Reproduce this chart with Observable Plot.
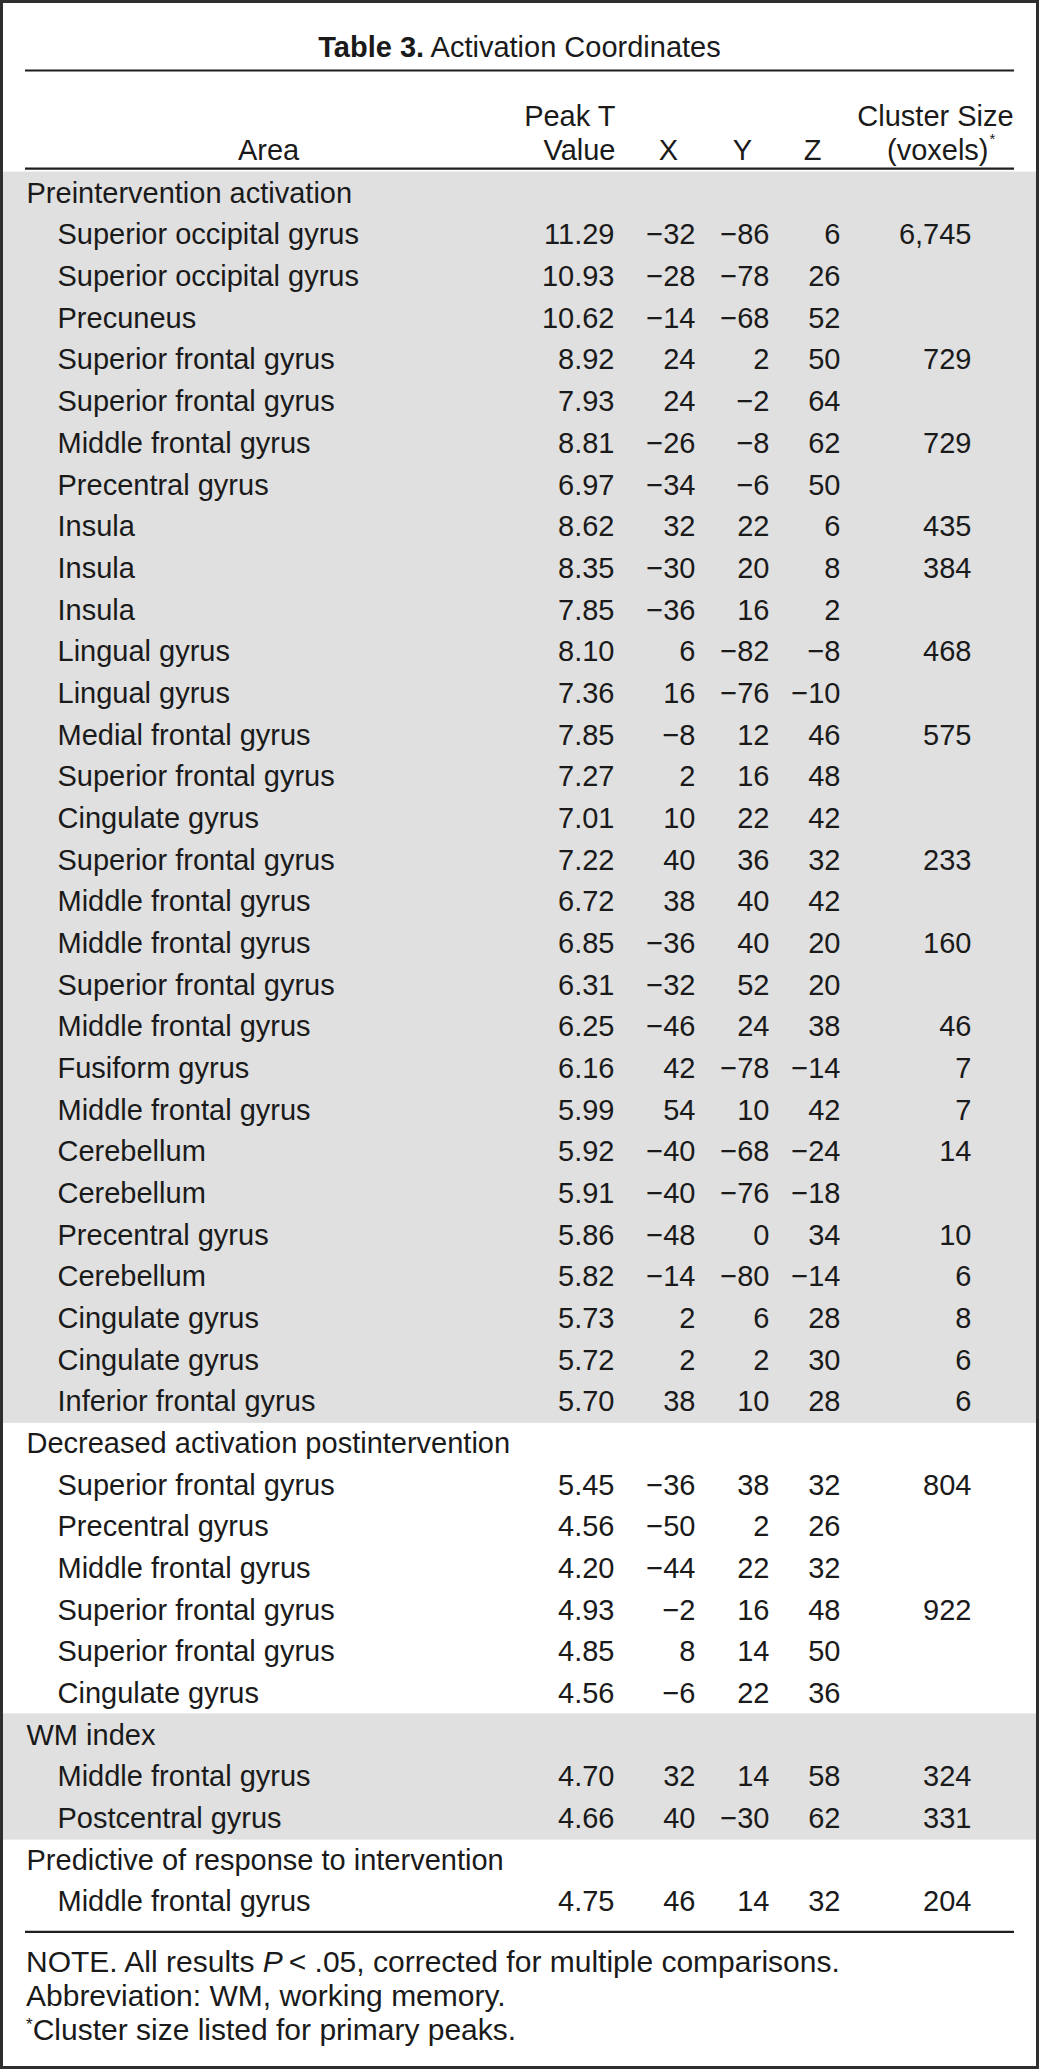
<!DOCTYPE html>
<html>
<head>
<meta charset="utf-8">
<script src="https://cdn.jsdelivr.net/npm/d3@7"></script>
<script src="https://cdn.jsdelivr.net/npm/@observablehq/plot@0.6"></script>
<style>
  html, body { margin: 0; padding: 0; background: #fff; }
  #page { position: relative; width: 1039px; height: 2069px; overflow: hidden;
          font-family: "Liberation Sans", Arial, sans-serif; color: #1a1a1a; }
  #border { position: absolute; left: 0; top: 0; width: 1039px; height: 2069px; box-sizing: border-box;
            border: 3px solid #2e2e2e; pointer-events: none; }
  #title { position: absolute; left: 0; top: 30px; width: 1039px; text-align: center;
           font-size: 29px; line-height: 34px; }
  #title b { font-weight: bold; }
  #chart { position: absolute; left: 0; top: 66px; }
  #notes { position: absolute; left: 26px; top: 1945px; font-size: 30px; line-height: 34px; }
  #notes div { height: 34px; }
  #notes sup { font-size: 17px; position: relative; top: -10px; vertical-align: baseline; }
</style>
</head>
<body>
<div id="page">
  <div id="title"><b>Table 3.</b> Activation Coordinates</div>
  <div id="chart"></div>
  <div id="notes">
    <div>NOTE. All results <i>P</i>&thinsp;&lt; .05, corrected for multiple comparisons.</div>
    <div>Abbreviation: WM, working memory.</div>
    <div><sup>*</sup>Cluster size listed for primary peaks.</div>
  </div>
  <div id="border"></div>
</div>
<script>
// ---------- DATA ----------
const sectionNames = [
  "Preintervention activation",
  "Decreased activation postintervention",
  "WM index",
  "Predictive of response to intervention"
];
const sectionShaded = [true, false, true, false];

const areas = [
  "Superior occipital gyrus","Superior occipital gyrus","Precuneus","Superior frontal gyrus",
  "Superior frontal gyrus","Middle frontal gyrus","Precentral gyrus","Insula","Insula","Insula",
  "Lingual gyrus","Lingual gyrus","Medial frontal gyrus","Superior frontal gyrus","Cingulate gyrus",
  "Superior frontal gyrus","Middle frontal gyrus","Middle frontal gyrus","Superior frontal gyrus",
  "Middle frontal gyrus","Fusiform gyrus","Middle frontal gyrus","Cerebellum","Cerebellum",
  "Precentral gyrus","Cerebellum","Cingulate gyrus","Cingulate gyrus","Inferior frontal gyrus",
  "Superior frontal gyrus","Precentral gyrus","Middle frontal gyrus","Superior frontal gyrus",
  "Superior frontal gyrus","Cingulate gyrus",
  "Middle frontal gyrus","Postcentral gyrus",
  "Middle frontal gyrus"
];
const sectionOf = [
  0,0,0,0,0,0,0,0,0,0,0,0,0,0,0,0,0,0,0,0,0,0,0,0,0,0,0,0,0,
  1,1,1,1,1,1,
  2,2,
  3
];
const peakT = [
  11.29,10.93,10.62,8.92,7.93,8.81,6.97,8.62,8.35,7.85,8.10,7.36,7.85,7.27,7.01,7.22,6.72,6.85,6.31,
  6.25,6.16,5.99,5.92,5.91,5.86,5.82,5.73,5.72,5.70,
  5.45,4.56,4.20,4.93,4.85,4.56,
  4.70,4.66,
  4.75
];
const coordX = [
  -32,-28,-14,24,24,-26,-34,32,-30,-36,6,16,-8,2,10,40,38,-36,-32,-46,42,54,-40,-40,-48,-14,2,2,38,
  -36,-50,-44,-2,8,-6,
  32,40,
  46
];
const coordY = [
  -86,-78,-68,2,-2,-8,-6,22,20,16,-82,-76,12,16,22,36,40,40,52,24,-78,10,-68,-76,0,-80,6,2,10,
  38,2,22,16,14,22,
  14,-30,
  14
];
const coordZ = [
  6,26,52,50,64,62,50,6,8,2,-8,-10,46,48,42,32,42,20,20,38,-14,42,-24,-18,34,-14,28,30,28,
  32,26,32,48,50,36,
  58,62,
  32
];
const clusterSize = [
  6745,null,null,729,null,729,null,435,384,null,468,null,575,null,null,233,null,160,null,46,7,7,14,null,10,6,8,6,6,
  804,null,null,922,null,null,
  324,331,
  204
];

// ---------- LAYOUT (positions / styles) ----------
const FONT = '"Liberation Sans", Arial, sans-serif';
const L = {
  width: 1039, svgHeight: 1874,
  rowH: 41.67, bandTop: 106.2,
  sectionX: 26, areaX: 57,
  peakX: 614, xX: 695, yX: 769, zX: 840, clusterX: 971,
  hArea: 268, hPeak: 615, hX: 668, hY: 742, hZ: 812, hCluster: 935, hVoxelsEnd: 988,
  head1: 38.5, head2: 72.5,
  ruleL: 25, ruleR: 1014,
  fontSize: 29, shade: "#e0e0e0", ink: "#1a1a1a", rule: "#1e1e1e"
};

// ---------- BUILD TABLE ----------
const fmtCoord = v => v < 0 ? "\u2212" + Math.abs(v) : String(v);
const fmtSize = d3.format(",");
const rows = [];
sectionNames.forEach((name, s) => {
  rows.push({kind: "section", label: name, shaded: sectionShaded[s]});
  areas.forEach((a, k) => {
    if (sectionOf[k] === s) rows.push({
      kind: "data", label: a, shaded: sectionShaded[s],
      peak: peakT[k].toFixed(2), X: fmtCoord(coordX[k]), Y: fmtCoord(coordY[k]), Z: fmtCoord(coordZ[k]),
      size: clusterSize[k] == null ? "" : fmtSize(clusterSize[k])
    });
  });
});
rows.forEach((r, i) => r.i = i);
const dataRows = rows.filter(r => r.kind === "data");
const lastRow = rows.length - 1;
const half = L.rowH / 2;

const headerLine1 = [
  {text: "Peak T", x: L.hPeak, anchor: "end"}, {text: "Cluster Size", x: L.hCluster, anchor: "middle"}
];
const headerLine2 = [
  {text: "Area", x: L.hArea, anchor: "middle"}, {text: "Value", x: L.hPeak, anchor: "end"},
  {text: "X", x: L.hX, anchor: "middle"}, {text: "Y", x: L.hY, anchor: "middle"},
  {text: "Z", x: L.hZ, anchor: "middle"}, {text: "(voxels)", x: L.hVoxelsEnd, anchor: "end"}
];

const numCol = (key, x) => Plot.text(dataRows, {
  y: "i", x: () => x, text: key, textAnchor: "end", fontSize: L.fontSize, fill: L.ink
});
const headerMark = (cells, dy) => [
  Plot.text(cells.filter(c => c.anchor === "middle"), {x: "x", text: "text", frameAnchor: "top", dy, textAnchor: "middle", fontSize: L.fontSize, fill: L.ink}),
  Plot.text(cells.filter(c => c.anchor === "end"), {x: "x", text: "text", frameAnchor: "top", dy, textAnchor: "end", fontSize: L.fontSize, fill: L.ink})
];
const ruleOpts = {x1: () => L.ruleL, x2: () => L.ruleR, stroke: L.rule, strokeWidth: 2.2};

const chart = Plot.plot({
  width: L.width, height: L.svgHeight, margin: 0,
  x: {domain: [0, L.width], range: [0, L.width], axis: null},
  y: {type: "band", domain: rows.map(r => r.i), range: [L.bandTop, L.bandTop + rows.length * L.rowH],
      padding: 0, round: false, axis: null},
  style: {fontFamily: FONT, fontSize: L.fontSize + "px", color: L.ink, background: "transparent", overflow: "visible"},
  marks: [
    Plot.barX(rows.filter(r => r.shaded), {
      y: "i", x1: () => 3, x2: () => L.width - 3, fill: L.shade, insetTop: -0.6, insetBottom: -0.6
    }),
    // rules
    Plot.ruleY([0], {y: d => d, dy: -half - L.bandTop + 4, ...ruleOpts}),
    Plot.ruleY([0], {y: d => d, dy: -half - 4, ...ruleOpts}),
    Plot.ruleY([lastRow], {y: d => d, dy: half + 9, ...ruleOpts}),
    // header
    ...headerMark(headerLine1, L.head1),
    ...headerMark(headerLine2, L.head2),
    Plot.text(["*"], {x: () => L.hVoxelsEnd + 1, text: d => d, frameAnchor: "top", dy: L.head2 - 6, textAnchor: "start", fontSize: 15, fill: L.ink}),
    // area labels
    Plot.text(rows, {
      y: "i", x: r => r.kind === "section" ? L.sectionX : L.areaX, text: "label",
      textAnchor: "start", fontSize: L.fontSize, fill: L.ink
    }),
    numCol("peak", L.peakX),
    numCol("X", L.xX),
    numCol("Y", L.yX),
    numCol("Z", L.zX),
    numCol("size", L.clusterX)
  ]
});
document.getElementById("chart").appendChild(chart);
</script>
</body>
</html>
